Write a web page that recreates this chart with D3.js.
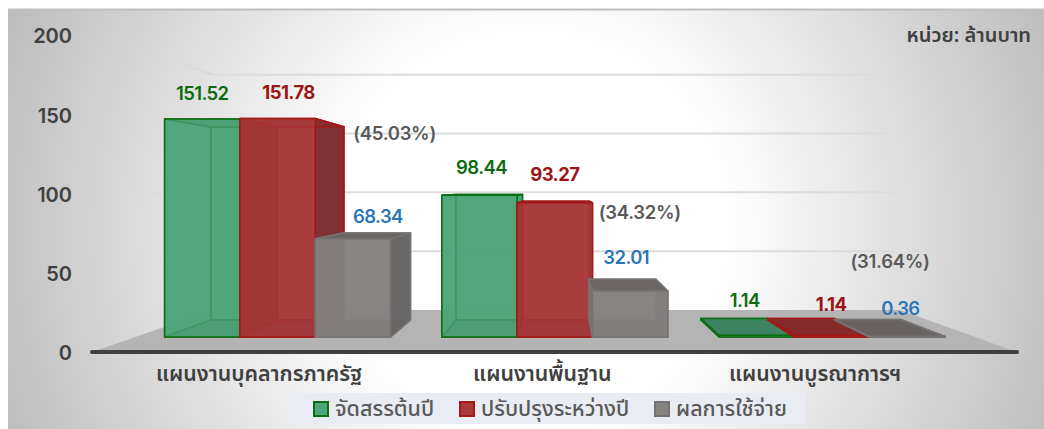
<html>
<head>
  <meta charset="utf-8">
  <script src="https://d3js.org/d3.v7.min.js"></script>
  <style>
    html, body { margin: 0; background: white; }
    text { font-family: "Noto Sans Thai", "Noto Sans", sans-serif; }
    text.num, .tick text { font-family: Inter, sans-serif; }
  </style>
</head>
<body>
  <svg id="chart" width="1044" height="429"></svg>
  <script>
    var categories = ["แผนงานบุคลากรภาครัฐ", "แผนงานพื้นฐาน", "แผนงานบูรณาการฯ"];
    var seriesNames = ["จัดสรรต้นปี", "ปรับปรุงระหว่างปี", "ผลการใช้จ่าย"];
    var budgetStart = [151.52, 98.44, 1.14];
    var budgetRevised = [151.78, 93.27, 1.14];
    var spending = [68.34, 32.01, 0.36];
    var spendingShare = ["(45.03%)", "(34.32%)", "(31.64%)"];
    var yTicks = [0, 50, 100, 150, 200];
    var unitLabel = "หน่วย: ล้านบาท";
    var seriesValues = [budgetStart, budgetRevised, spending];

    // colours per series: front, left, right, top, stroke, label
    var looks = [
      { front: "#4da678", left: "#4da678", right: "#4da678", top: "#3d8463", stroke: "#0b6e14", label: "#0b6b0b", weight: 600 },
      { front: "#a83a3b", left: "#8f2320", right: "#7d3133", top: "#852a2a", stroke: "#a31818", label: "#9c1414", weight: 700 },
      { front: "#878381", left: "#787170", right: "#666464", top: "#676361", stroke: "#767472", label: "#2e75b6", weight: 600 }
    ];

    var svg = d3.select("#chart");
    var defs = svg.append("defs");
    var grad = defs.append("radialGradient").attr("id", "panelBg")
      .attr("gradientUnits", "userSpaceOnUse")
      .attr("cx", 530).attr("cy", 230).attr("r", 560);
    grad.append("stop").attr("offset", "0%").attr("stop-color", "#ffffff");
    grad.append("stop").attr("offset", "35%").attr("stop-color", "#ffffff");
    grad.append("stop").attr("offset", "100%").attr("stop-color", "#bdbdbd");

    // perspective: everything shrinks towards one vanishing point
    var vx = 563, vy = 189;
    var floorFront = 1, floorBack = 0.742, barFront = 0.908, barBack = 0.803;
    var floorL = 92, floorR = 1017;

    var y = d3.scaleLinear().domain([0, 200]).range([352, 35]);
    var x0 = d3.scaleBand().domain(d3.range(categories.length)).range([96, 1012])
      .paddingInner(0.185).paddingOuter(0.0925);
    var x1 = d3.scaleBand().domain(d3.range(seriesNames.length)).range([0, x0.bandwidth()]);

    function project(xw, v, f) {
      return [vx + (xw - vx) * f, vy + (y(v) - vy) * f];
    }
    function quad(pts) {
      return "M" + pts.map(function (p) { return p.join(","); }).join("L") + "Z";
    }

    svg.append("rect").attr("x", 8).attr("y", 9).attr("width", 1036).attr("height", 420)
      .attr("fill", "url(#panelBg)");
    svg.append("line").attr("x1", 8).attr("x2", 1044).attr("y1", 9.5).attr("y2", 9.5)
      .attr("stroke", "#bfbfbf").attr("stroke-width", 2);

    // floor
    svg.append("path")
      .attr("d", quad([project(floorL, 0, floorFront), project(floorL, 0, floorBack),
                       project(floorR, 0, floorBack), project(floorR, 0, floorFront)]))
      .attr("fill", "#b4b4b4");

    // walls: left wall lines fade out towards the axis, back wall lines stay flat
    var fadeGrad = defs.append("linearGradient").attr("id", "wallFade")
      .attr("x1", "0%").attr("x2", "100%").attr("y1", "0%").attr("y2", "0%");
    fadeGrad.append("stop").attr("offset", "0%").attr("stop-color", "#d9d9d9").attr("stop-opacity", 0);
    fadeGrad.append("stop").attr("offset", "100%").attr("stop-color", "#d9d9d9");

    var grid = svg.append("g");
    yTicks.filter(function (t) { return t > 0; }).forEach(function (t) {
      var a = project(floorL, t, floorFront), b = project(floorL, t, floorBack), c = project(floorR, t, floorBack);
      grid.append("polyline").attr("fill", "none").attr("stroke", "url(#wallFade)").attr("stroke-width", 2)
        .attr("points", [a, [b[0], b[1] + 0.01]].map(function (p) { return p.join(","); }).join(" "));
      grid.append("line").attr("x1", b[0]).attr("y1", b[1]).attr("x2", c[0] - 6).attr("y2", c[1])
        .attr("stroke", "#dcdcdc").attr("stroke-width", 2);
    });

    // bars
    var barsG = svg.append("g");
    seriesValues.forEach(function (vals, s) {
      var look = looks[s];
      vals.forEach(function (v, c) {
        var l = x0(c) + x1(s), r = l + x1.bandwidth();
        var g = barsG.append("g").attr("stroke", look.stroke).attr("stroke-width", 1.5)
          .attr("stroke-linejoin", "round");
        var fl0 = project(l, 0, barFront), fr0 = project(r, 0, barFront), fl1 = project(l, v, barFront), fr1 = project(r, v, barFront);
        var bl0 = project(l, 0, barBack), br0 = project(r, 0, barBack), bl1 = project(l, v, barBack), br1 = project(r, v, barBack);
        function face(pts, fill, op) {
          g.append("path").attr("d", quad(pts)).attr("fill", fill).attr("fill-opacity", op);
        }
        face([bl0, br0, br1, bl1], look.front, 0.95);
        face([fl0, fr0, br0, bl0], look.top, 0.9);
        face([fl0, bl0, bl1, fl1], look.left, 0.9);
        face([fr0, br0, br1, fr1], look.right, 0.9);
        face([fl1, fr1, br1, bl1], look.top, 0.9);
        face([fl0, fr0, fr1, fl1], look.front, 0.75);
      });
    });

    // axis line on the front edge of the floor
    svg.append("line").attr("x1", floorL).attr("x2", floorR).attr("y1", y(0)).attr("y2", y(0))
      .attr("stroke", "#404040").attr("stroke-width", 4).attr("stroke-linecap", "round");

    var yAxis = svg.append("g").attr("transform", "translate(72,1.5)")
      .call(d3.axisLeft(y).tickValues(yTicks).tickSize(0).tickPadding(0));
    yAxis.select(".domain").remove();
    yAxis.selectAll("text").attr("font-size", 20).attr("font-weight", 600).attr("fill", "#404040");

    // category labels sit a little left of their bar groups in the original
    var catNudge = [-18.5, -12.5, -17];
    svg.append("g").selectAll("text").data(categories).enter().append("text")
      .attr("x", function (d, i) { return project(x0(i) + x0.bandwidth() / 2, 0, barFront)[0] + catNudge[i]; })
      .attr("y", 381).attr("text-anchor", "middle").attr("font-size", 21.3).attr("font-weight", 600)
      .attr("fill", "#404040").text(function (d) { return d; });

    // value labels, hand placed in the original
    var labelNudge = [
      [[0, -24], [11, -25], [25, -21]],
      [[2, -26], [0, -27], [-4, -32]],
      [[-12, -33], [-1, -29], [-7, -27]]
    ];
    var labelsG = svg.append("g");
    seriesValues.forEach(function (vals, s) {
      vals.forEach(function (v, c) {
        var mid = x0(c) + x1(s) + x1.bandwidth() / 2;
        var p = project(mid, v, barFront);
        labelsG.append("text").attr("class", "num")
          .attr("x", p[0] + labelNudge[c][s][0]).attr("y", p[1] + labelNudge[c][s][1])
          .attr("text-anchor", "middle").attr("dominant-baseline", "middle")
          .attr("font-size", 18.5).attr("font-weight", looks[s].weight)
          .attr("letter-spacing", -0.6).attr("fill", looks[s].label)
          .text(d3.format(".2f")(v));
      });
    });

    // share of spending labels
    var shareNudge = [[117, -104], [85, -77], [58, -74]];
    labelsG.selectAll("text.share").data(spendingShare).enter().append("text").attr("class", "share num")
      .attr("x", function (d, i) { return project(x0(i) + x0.bandwidth() / 2, spending[i], barFront)[0] + shareNudge[i][0]; })
      .attr("y", function (d, i) { return project(x0(i) + x0.bandwidth() / 2, spending[i], barFront)[1] + shareNudge[i][1]; })
      .attr("text-anchor", "middle").attr("dominant-baseline", "middle")
      .attr("font-size", 18.5).attr("font-weight", 600)
      .attr("letter-spacing", -0.3).attr("fill", "#595959").text(function (d) { return d; });

    svg.append("text").attr("x", 1031).attr("y", 42).attr("text-anchor", "end")
      .attr("font-size", 20).attr("font-weight", 600).attr("fill", "#404040").text(unitLabel);

    // legend
    var legendX = [313, 459, 654];
    svg.append("rect").attr("x", 288).attr("y", 393).attr("width", 517).attr("height", 31).attr("fill", "#e9edf3");
    var legend = svg.append("g").selectAll("g").data(seriesNames).enter().append("g")
      .attr("transform", function (d, i) { return "translate(" + legendX[i] + ",401)"; });
    legend.append("rect").attr("x", 1).attr("y", 1).attr("width", 14).attr("height", 14)
      .attr("fill", function (d, i) { return looks[i].front; })
      .attr("stroke", function (d, i) { return looks[i].stroke; }).attr("stroke-width", 2);
    legend.append("text").attr("x", 22).attr("y", 15).attr("font-size", 21.5).attr("font-weight", 500)
      .attr("fill", "#595959").text(function (d) { return d; });
  </script>
</body>
</html>
